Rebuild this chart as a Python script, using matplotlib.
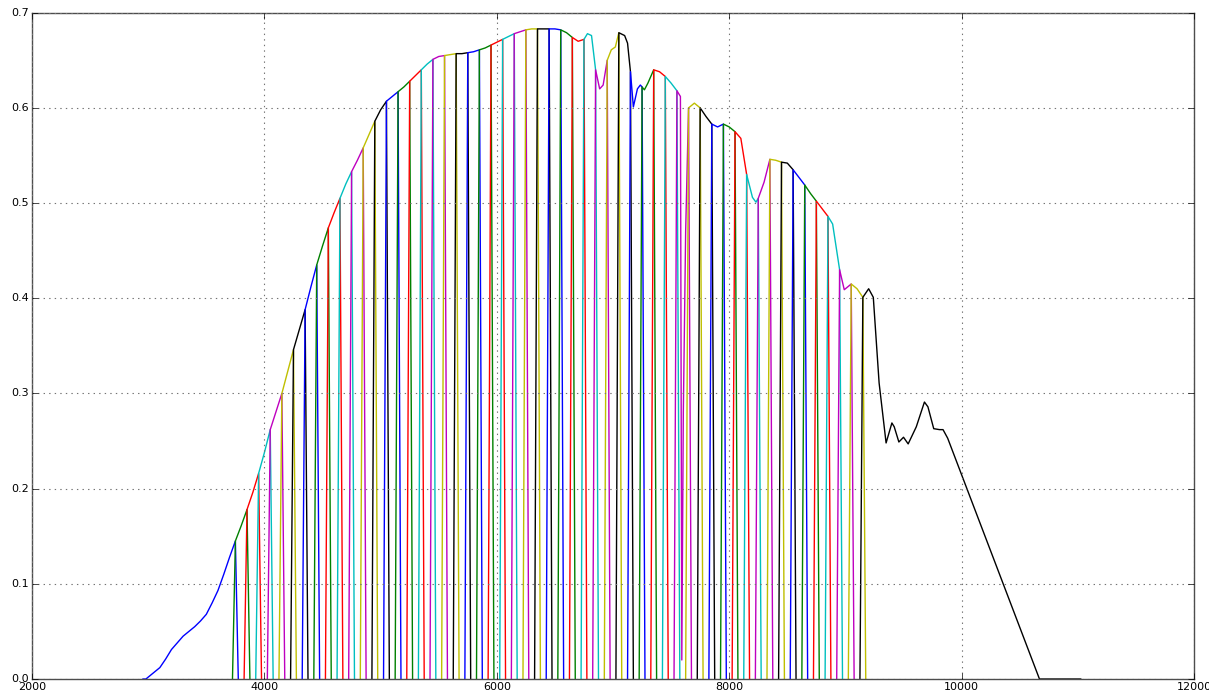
import numpy as np
import matplotlib
matplotlib.use("Agg")
import matplotlib.pyplot as plt

# throughput curve (wavelength, value)
wavelength = [2980, 3050, 3100, 3150, 3200, 3250, 3300, 3350, 3400, 3450, 3500, 3550,
              3600, 3650, 3700, 3750, 3800, 3850, 3900, 3950, 4000, 4050, 4100, 4150,
              4200, 4250, 4300, 4350, 4400, 4450, 4500, 4550, 4600, 4650, 4700, 4750,
              4800, 4850, 4900, 4950, 5000, 5050, 5100, 5150, 5200, 5250, 5300, 5350,
              5400, 5450, 5500, 5550, 5600, 5650, 5700, 5750, 5800, 5850, 5900, 5950,
              6000, 6050, 6100, 6150, 6200, 6250, 6300, 6350, 6400, 6450, 6500, 6550,
              6600, 6650, 6700, 6750, 6780, 6815, 6850, 6885, 6915, 6950, 6985, 7020,
              7050, 7100, 7125, 7150, 7175, 7210, 7235, 7250, 7270, 7300, 7350, 7400,
              7450, 7500, 7550, 7580, 7592, 7605, 7625, 7650, 7700, 7750, 7800, 7850,
              7900, 7950, 8000, 8050, 8100, 8150, 8200, 8230, 8250, 8300, 8350, 8400,
              8450, 8500, 8550, 8600, 8650, 8700, 8750, 8800, 8850, 8890, 8950, 8990,
              9050, 9100, 9150, 9200, 9240, 9290, 9350, 9400, 9420, 9460, 9500, 9540,
              9610, 9680, 9710, 9760, 9810, 9840, 9880, 10670, 11000]
throughput = [0.0, 0.007, 0.012, 0.021, 0.031, 0.038, 0.045, 0.050, 0.055, 0.061, 0.068, 0.080,
              0.093, 0.110, 0.128, 0.145, 0.161, 0.178, 0.196, 0.216, 0.238, 0.262, 0.281, 0.300,
              0.323, 0.346, 0.367, 0.388, 0.412, 0.435, 0.455, 0.474, 0.490, 0.505, 0.520, 0.533,
              0.545, 0.558, 0.572, 0.586, 0.598, 0.607, 0.612, 0.617, 0.622, 0.628, 0.634, 0.640,
              0.646, 0.651, 0.654, 0.655, 0.656, 0.657, 0.657, 0.658, 0.659, 0.661, 0.663, 0.666,
              0.669, 0.672, 0.675, 0.678, 0.680, 0.682, 0.683, 0.683, 0.683, 0.683, 0.683, 0.682,
              0.679, 0.674, 0.670, 0.672, 0.678, 0.676, 0.640, 0.620, 0.624, 0.650, 0.661, 0.664,
              0.679, 0.676, 0.668, 0.638, 0.601, 0.620, 0.624, 0.622, 0.619, 0.626, 0.640, 0.638,
              0.633, 0.626, 0.618, 0.612, 0.020, 0.280, 0.470, 0.600, 0.605, 0.600, 0.591, 0.583,
              0.580, 0.583, 0.580, 0.575, 0.568, 0.530, 0.506, 0.501, 0.505, 0.522, 0.546, 0.545,
              0.543, 0.542, 0.535, 0.527, 0.519, 0.510, 0.502, 0.494, 0.486, 0.478, 0.430, 0.409,
              0.415, 0.410, 0.401, 0.410, 0.401, 0.311, 0.248, 0.269, 0.265, 0.249, 0.254, 0.247,
              0.265, 0.291, 0.286, 0.263, 0.262, 0.262, 0.253, 0.0, 0.0]

# filter band edges
band_edges = [2980, 3750, 3850, 3950, 4050, 4150, 4250, 4350, 4450, 4550, 4650, 4750,
              4850, 4950, 5050, 5150, 5250, 5350, 5450, 5550, 5650, 5750, 5850, 5950,
              6050, 6150, 6250, 6350, 6450, 6550, 6650, 6750, 6850, 6950, 7050, 7150,
              7250, 7350, 7450, 7550, 7650, 7750, 7850, 7950, 8050, 8150, 8250, 8350,
              8450, 8550, 8650, 8750, 8850, 8950, 9050, 9150, 11000]

EDGE = 25   # width of the rising / falling flank of a band

plt.style.use('classic')
plt.rcParams['font.size'] = 8

def bandLine(lo, hi):      # curve inside one band, dropping to zero at both ends
    wl = np.array(wavelength)
    tp = np.array(throughput)
    keep = (wl >= lo) & (wl <= hi)
    x = [lo - EDGE] + list(wl[keep]) + [hi + EDGE]
    y = [0.0] + list(tp[keep]) + [0.0]
    return x, y

fig = plt.figure(figsize=(12.09, 6.95), dpi=100, facecolor='white')
ax = fig.add_axes([0.0265, 0.023, 0.9611, 0.9587])
ax.set_facecolor('white')

for i in range(len(band_edges) - 1):
    x, y = bandLine(band_edges[i], band_edges[i + 1])
    ax.plot(x, y, linewidth=1.0)

ax.set_xlim(2000, 12000)
ax.set_ylim(0, 0.7)
ax.set_xticks([2000, 4000, 6000, 8000, 10000, 12000])
ax.set_yticks([0.0, 0.1, 0.2, 0.3, 0.4, 0.5, 0.6, 0.7])
ax.grid(True, color='0.45', linestyle=':', linewidth=0.8)
ax.tick_params(axis='x', pad=2)
ax.tick_params(axis='y', pad=2)
for s in ax.spines.values():
    s.set_color('0.3')

fig.savefig("out.png", dpi=100, facecolor='white')
